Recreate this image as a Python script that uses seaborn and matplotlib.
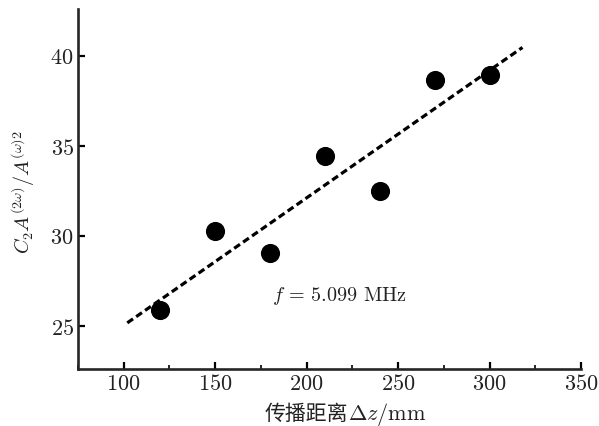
import numpy as np
import pandas as pd
import matplotlib
matplotlib.use("Agg")
import matplotlib.pyplot as plt
from matplotlib.ticker import MultipleLocator
from matplotlib.offsetbox import TextArea, HPacker, AnchoredOffsetbox
import seaborn as sns

# Measured second-harmonic ratio vs. propagation distance
distance_mm = [120, 150, 180, 210, 240, 270, 300]
ratio = [25.87, 30.24, 29.02, 34.45, 32.5, 38.65, 38.93]
fit_range = [102, 318]

sns.set_style("ticks")
plt.rcParams["font.family"] = ["cmr10", "Noto Sans CJK SC"]
plt.rcParams["mathtext.fontset"] = "cm"
plt.rcParams["axes.formatter.use_mathtext"] = True

TXT = "#222222"

df = pd.DataFrame({"z": distance_mm, "r": ratio})
slope, intercept = np.polyfit(df["z"], df["r"], 1)
fit = pd.DataFrame({"z": fit_range})
fit["r"] = slope * fit["z"] + intercept

fig = plt.figure(figsize=(5.99, 4.27), dpi=100)
ax = fig.add_axes([0.130, 0.1335, 0.840, 0.8435])

sns.lineplot(data=fit, x="z", y="r", ax=ax, color="black", lw=2.3,
             linestyle=(0, (2.2, 1.2)), zorder=2)
sns.scatterplot(data=df, x="z", y="r", ax=ax, color="black", s=190,
                edgecolor="black", linewidth=0, zorder=3)

ax.set_xlim(75, 350)
ax.set_ylim(22.6, 42.6)
ax.xaxis.set_major_locator(MultipleLocator(50))
ax.xaxis.set_minor_locator(MultipleLocator(25))
ax.yaxis.set_major_locator(MultipleLocator(5))

for s in ["top", "right"]:
    ax.spines[s].set_visible(False)
for s in ["left", "bottom"]:
    ax.spines[s].set_linewidth(1.9)

ax.tick_params(which="major", direction="in", length=5, width=1.6,
               labelsize=16, colors="black", labelcolor=TXT, pad=3)
ax.tick_params(which="minor", direction="in", length=3, width=1.4)

# x label: CJK part and math part packed side by side on one baseline
ax.set_xlabel("")
cjk = TextArea("传播距离", textprops=dict(family="Noto Sans CJK SC",
                                            size=15, color=TXT))
mth = TextArea(r"$\Delta z$/mm", textprops=dict(size=16, color=TXT))
xlab = HPacker(children=[cjk, mth], align="baseline", pad=0, sep=0)
fig.add_artist(AnchoredOffsetbox(loc="upper center", child=xlab, pad=0,
                                 borderpad=0, frameon=False,
                                 bbox_to_anchor=(0.577, 0.062),
                                 bbox_transform=fig.transFigure))

ax.set_ylabel(r"$C_2A^{(2\omega)}/A^{(\omega)2}$", fontsize=14.5, color=TXT)
ax.yaxis.set_label_coords(-0.082, 0.495)

ax.text(181, 26.7, r"$f\,=\,5.099$ MHz", fontsize=14.5, color=TXT,
        ha="left", va="center")

fig.savefig("out.png", dpi=100)
